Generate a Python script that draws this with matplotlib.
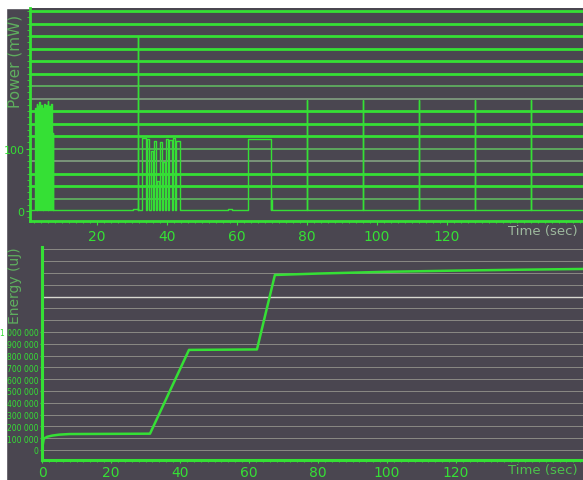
import matplotlib
matplotlib.use("Agg")
import matplotlib.pyplot as plt
from matplotlib.patches import Rectangle
from matplotlib.ticker import MultipleLocator, FixedLocator, FuncFormatter

# ---------------- data ----------------
# Power trace: rectangular pulses (start s, end s, level mW) on a ~1 mW baseline
power_baseline = 1.0
burst1_pulses = [
    (2.4, 2.6, 165), (2.75, 2.95, 172), (3.1, 3.3, 168), (3.45, 3.65, 175),
    (3.8, 3.95, 130), (4.1, 4.35, 170), (4.5, 4.7, 165), (4.85, 5.05, 172),
    (5.2, 5.35, 118), (5.5, 5.75, 170), (5.9, 6.1, 176), (6.25, 6.45, 168),
    (6.6, 6.8, 160), (6.95, 7.15, 172), (7.3, 7.45, 125),
]
startup_pulses = [(30.2, 31.6, 4), (31.6, 31.75, 280)]
burst2_pulses = [
    (33.0, 33.9, 117), (34.2, 35.0, 115), (35.3, 36.1, 96), (36.4, 37.0, 112),
    (37.2, 37.8, 48), (38.0, 38.7, 110), (38.9, 39.5, 78), (39.7, 40.4, 116),
    (40.7, 41.5, 113), (41.8, 42.4, 117), (42.7, 43.7, 112),
]
block_pulses = [(57.5, 58.5, 3), (63.1, 69.7, 115), (69.7, 70.0, 18)]
periodic_spike_times = [80, 96, 112, 128, 144]
periodic_spike_level = 178

# Cumulative energy
energy_t = [0, 0.5, 1.5, 3, 5, 8, 31.3, 42.6, 62.3, 67.5, 80, 100, 120, 140, 157]
energy_uJ = [0, 95000, 112000, 122000, 130000, 135000, 138000, 848000,
             852000, 1483000, 1495000, 1510000, 1520000, 1528000, 1534000]

power_yticks = [0, 100]
time_ticks = [20, 40, 60, 80, 100, 120]
energy_time_ticks = [0, 20, 40, 60, 80, 100, 120]
energy_yticks = [0, 100000, 200000, 300000, 400000, 500000,
                 600000, 700000, 800000, 900000, 1000000]

# ---------------- style ----------------
W, H = 583, 481
BG = "#4a4650"
GREEN = "#35e035"
GREEN_MID = "#5fae5f"
GREEN_DIM = "#7d9a7d"
GRID_GRAY = "#8a8a84"

plt.rcParams["font.family"] = ["DejaVu Sans"]

fig = plt.figure(figsize=(W / 100, H / 100), dpi=100, facecolor=BG)
fig.add_artist(Rectangle((0, 1 - 9 / H), 1, 9 / H, transform=fig.transFigure,
                         color="white", zorder=-1))
fig.add_artist(Rectangle((0, 0), 6 / W, 1, transform=fig.transFigure,
                         color="white", zorder=-1))


def build_trace(pulse_groups, t_start, t_end, base):
    t, p = [t_start], [base]
    pulses = sorted(x for g in pulse_groups for x in g)
    for on, off, lvl in pulses:
        t += [on, on, off, off]
        p += [base, lvl, lvl, base]
    t.append(t_end)
    p.append(base)
    return t, p


# ---------------- power panel ----------------
ax1 = fig.add_axes([30 / W, 259 / H, 553 / W, 213 / H])
ax1.set_facecolor(BG)
ax1.set_xlim(0.86, 158.9)
ax1.set_ylim(-16, 325)

dim_levels = {180: GREEN_DIM, 80: GREEN_DIM, 200: GREEN_MID, 100: GREEN_MID, 20: GREEN_MID}
for lvl in range(20, 340, 20):
    c = dim_levels.get(lvl, GREEN)
    ax1.axhline(lvl, color=c, lw=2.0 if c == GREEN else 1.3, zorder=1)

spikes = [(t, t + 0.15, periodic_spike_level) for t in periodic_spike_times]
pt, pp = build_trace([burst1_pulses, startup_pulses, burst2_pulses,
                      block_pulses, spikes], 0.86, 158.9, power_baseline)
ax1.plot(pt, pp, color=GREEN, lw=1.0, zorder=3)

for s in ["top", "right"]:
    ax1.spines[s].set_visible(False)
for s in ["left", "bottom"]:
    ax1.spines[s].set_color(GREEN)
    ax1.spines[s].set_linewidth(2)
ax1.xaxis.set_major_locator(FixedLocator(time_ticks))
ax1.xaxis.set_minor_locator(MultipleLocator(2))
ax1.yaxis.set_major_locator(FixedLocator(power_yticks))
ax1.yaxis.set_minor_locator(MultipleLocator(10))
ax1.tick_params(axis="both", which="both", colors=GREEN, direction="out")
ax1.tick_params(axis="x", which="major", length=3, pad=2.5, labelsize=10, labelcolor=GREEN)
ax1.tick_params(axis="x", which="minor", length=1.5)
ax1.tick_params(axis="y", which="major", length=3, pad=1, labelsize=8, labelcolor=GREEN)
ax1.tick_params(axis="y", which="minor", length=2)
fig.text(15 / W, 1 - 61 / H, "Power (mW)", rotation=90, color=GREEN_MID,
         fontsize=11, ha="center", va="center")
fig.text(578 / W, 1 - 232 / H, "Time (sec)", color="#9db89d",
         fontsize=9.5, ha="right", va="center")

# ---------------- energy panel ----------------
ax2 = fig.add_axes([42 / W, 20 / H, 541 / W, 213 / H])
ax2.set_facecolor(BG)
ax2.set_xlim(0, 156.8)
ax2.set_ylim(-85000, 1720000)

for k in range(0, 18):
    lvl = k * 100000
    bright = lvl == 1300000
    ax2.axhline(lvl, color="#d8d8d0" if bright else GRID_GRAY,
                lw=1.0 if bright else 0.7, zorder=1)

ax2.plot(energy_t, energy_uJ, color=GREEN, lw=1.8, zorder=3)

for s in ["top", "right"]:
    ax2.spines[s].set_visible(False)
for s in ["left", "bottom"]:
    ax2.spines[s].set_color(GREEN)
    ax2.spines[s].set_linewidth(2.2)
ax2.xaxis.set_major_locator(FixedLocator(energy_time_ticks))
ax2.xaxis.set_minor_locator(MultipleLocator(2))
ax2.yaxis.set_major_locator(FixedLocator(energy_yticks))
ax2.yaxis.set_major_formatter(FuncFormatter(lambda v, _: f"{int(v):,}".replace(",", " ")))
ax2.tick_params(axis="both", which="both", colors=GREEN, direction="out")
ax2.tick_params(axis="x", which="major", length=2, pad=1.5, labelsize=10, labelcolor=GREEN)
ax2.tick_params(axis="x", which="minor", length=1.2)
ax2.tick_params(axis="y", which="major", length=1.5, pad=1, labelsize=5.5, labelcolor=GREEN)
fig.text(15 / W, 1 - 286 / H, "Energy (uJ)", rotation=90, color=GREEN_MID,
         fontsize=10, ha="center", va="center")
fig.text(578 / W, 1 - 471 / H, "Time (sec)", color="#4cc04c",
         fontsize=9.5, ha="right", va="center")

fig.savefig("out.png", dpi=100, facecolor=BG)
